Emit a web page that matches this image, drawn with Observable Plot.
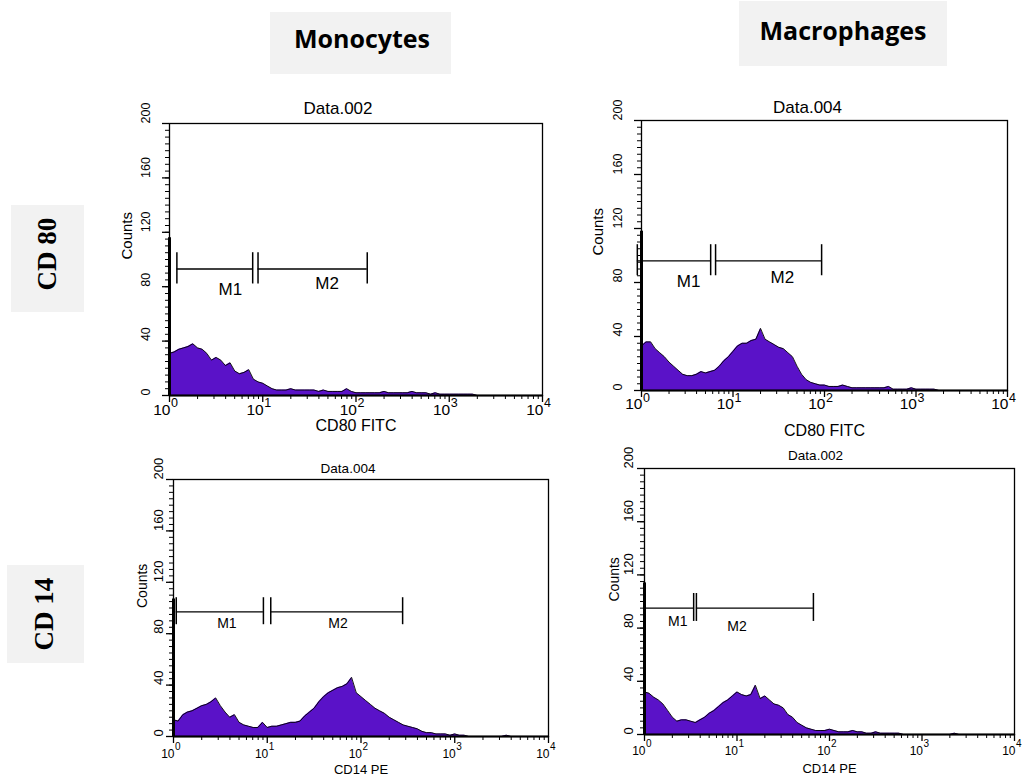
<!DOCTYPE html>
<html><head><meta charset="utf-8">
<script src="https://cdn.jsdelivr.net/npm/d3@7"></script>
<script src="https://cdn.jsdelivr.net/npm/@observablehq/plot@0.6"></script>
<style>
body{margin:0;background:#fff;}
#root{position:relative;width:1023px;height:778px;overflow:hidden;background:#fff;}
.hdr{position:absolute;background:#f2f2f2;}
.hdr span{position:absolute;white-space:nowrap;color:#000;}
.col span{font-family:"Open Sans",sans-serif;font-weight:700;font-size:25px;transform:translate(-50%,-50%);}
.row span{font-family:"Liberation Serif",serif;font-weight:700;font-size:27px;transform:translate(-50%,-50%) rotate(-90deg);}
.panel{position:absolute;}
.panel svg{overflow:visible;}
</style></head><body><div id="root"></div>
<script>
// ---------- data ----------
const fluorescence = [
  1, 1.12, 1.26, 1.41, 1.58, 1.78, 2, 2.24, 2.51, 2.82, 3.16, 3.55, 3.98, 4.47, 5.01, 5.62, 6.31, 7.08, 7.94, 8.91,
  10, 11.2, 12.6, 14.1, 15.8, 17.8, 20, 22.4, 25.1, 28.2, 31.6, 35.5, 39.8, 44.7, 50.1, 56.2, 63.1, 70.8, 79.4, 89.1,
  100, 112, 126, 141, 158, 178, 200, 224, 251, 282, 316, 355, 398, 447, 501, 562, 631, 708, 794, 891,
  1000, 1120, 1260, 1410, 1580, 1780, 2000, 2240, 2510, 2820, 3160, 3550, 3980, 4470, 5010, 5620, 6310, 7080, 7940, 8910, 10000
];
const countsMonoCD80 = [
  31,32,34,35,36,38,35,34,31,26,28,26,22,24,18,16,17,19,12,10,
  9,7,5,4,4,4,5,4,4,4,4,4,3,4,3,3,3,3,5,3,
  2,2,2,2,2,2,3,2,2,2,2,2,3,2,2,2,1,2,1,1,
  1,1,1,1,1,1,0,0,0,0,0,0,0,0,0,0,0,0,0,0,0
];
const countsMacroCD80 = [
  33,36,36,31,28,25,21,18,15,12,11,11,12,14,13,14,15,18,22,25,
  29,33,35,35,37,38,46,38,36,34,32,31,28,25,18,12,8,6,5,4,
  4,3,3,3,4,3,2,2,2,2,2,2,2,2,3,1,1,1,1,2,
  1,1,1,1,1,0,0,0,0,0,0,0,0,0,0,0,0,0,0,0,0
];
const countsMonoCD14 = [
  13,12,17,19,20,22,24,25,27,30,24,19,15,17,11,9,8,7,7,11,
  7,8,8,9,10,11,11,12,16,19,22,27,31,34,36,38,39,41,46,34,
  31,28,25,22,20,18,15,13,11,9,8,7,6,4,3,3,2,2,2,1,
  2,1,1,0,0,0,0,0,0,0,0,1,0,0,0,0,0,0,0,0,0
];
const countsMacroCD14 = [
  32,31,28,26,23,18,13,10,11,11,10,9,11,13,16,18,21,24,26,29,
  32,30,29,30,37,27,29,26,23,22,20,15,13,9,7,5,4,3,3,3,
  4,3,2,2,2,3,2,2,1,1,2,1,1,1,1,1,0,0,0,0,
  0,0,0,0,0,0,0,1,0,0,0,0,0,0,0,0,0,0,0,0,0
];
// counts in the first channel (spike at 10^0)
const firstChannel = {monoCD80: 116, macroCD80: 118, monoCD14: 107, macroCD14: 114};

const gatesMonoCD80  = [{name:"M1", x1:1.2,  x2:7.8, y:93, lx:4.5,  ly:78}, {name:"M2", x1:8.9,  x2:132, y:93, lx:49,   ly:82}];
const gatesMacroCD80 = [{name:"M1", x1:0.9,  x2:5.7, y:96, lx:3.27, ly:81}, {name:"M2", x1:6.45, x2:93,  y:96, lx:34.6, ly:84}];
const gatesMonoCD14  = [{name:"M1", x1:1.07, x2:9.1, y:97, lx:3.71, ly:88}, {name:"M2", x1:10.9, x2:278, y:97, lx:56.9, ly:88}];
const gatesMacroCD14 = [{name:"M1", x1:1.0,  x2:3.4, y:95, lx:2.29, ly:85}, {name:"M2", x1:3.64, x2:67,  y:95, lx:10.0, ly:81}];

const decades = [1, 10, 100, 1000, 10000];
const exponents = ["0", "1", "2", "3", "4"];
const yTickLabels = [0, 40, 80, 120, 160, 200];
const columnHeaders = ["Monocytes", "Macrophages"];
const rowHeaders = ["CD 80", "CD 14"];

// ---------- layout ----------
const root = document.getElementById("root");
function box(cls, l, t, w, h, text, cx, cy) {
  const d = document.createElement("div");
  d.className = "hdr " + cls;
  Object.assign(d.style, {left: l + "px", top: t + "px", width: w + "px", height: h + "px"});
  const s = document.createElement("span");
  s.textContent = text;
  s.style.left = cx + "px"; s.style.top = cy + "px";
  d.appendChild(s);
  root.appendChild(d);
}
box("col", 270, 12, 181, 62, columnHeaders[0], 92, 25.5);
box("col", 739, 1, 208, 65, columnHeaders[1], 104, 28.5);
box("row", 11, 205, 73, 107, rowHeaders[0], 35.5, 48.5);
box("row", 7, 565, 77, 98, rowHeaders[1], 37, 49);

const topStyle = {titleSize:17, titleDy:-15, titleDx:-18, tenSize:15.5, supSize:12.5, tenDy:15, supDy:7, ytickSize:12.5, ytickDx:-24,
  countsSize:15, countsDx:-42, xlabelSize:16, xlabelDy:30, gateSize:17, tickDown:11, tickUp:12};
const botStyle = {titleSize:13.5, titleDy:-11, titleDx:-13, tenSize:12, supSize:10, tenDy:18, supDy:10, ytickSize:13, ytickDx:-15,
  countsSize:14, countsDx:-31, xlabelSize:13, xlabelDy:33, gateSize:14, tickDown:10, tickUp:11};

const panels = [
  {counts: countsMonoCD80, spike: firstChannel.monoCD80, gates: gatesMonoCD80, title: "Data.002", xlabel: "CD80 FITC",
   left: 90, top: 90, width: 465, height: 350, m: [33, 13, 45, 79], style: topStyle},
  {counts: countsMacroCD80, spike: firstChannel.macroCD80, gates: gatesMacroCD80, title: "Data.004", xlabel: "CD80 FITC",
   left: 570, top: 90, width: 453, height: 350, m: [30, 16, 50, 71], style: {...topStyle, titleDy:-13, titleDx:-17, tenDy:14, xlabelDy:40, countsDx:-43}},
  {counts: countsMonoCD14, spike: firstChannel.monoCD14, gates: gatesMonoCD14, title: "Data.004", xlabel: "CD14 PE",
   left: 100, top: 445, width: 460, height: 333, m: [34, 12, 42, 73], style: botStyle},
  {counts: countsMacroCD14, spike: firstChannel.macroCD14, gates: gatesMacroCD14, title: "Data.002", xlabel: "CD14 PE",
   left: 587, top: 440, width: 436, height: 338, m: [28, 9, 44, 57], style: {...botStyle, titleDy:-13, titleDx:-14, tenDy:17, supDy:9, ytickDx:-16, countsDx:-30, xlabelDy:34}}
];

const purple = "#5a12c8";
const xMinor = [];
for (const d of decades.slice(0, 4)) for (let k = 2; k < 10; k++) xMinor.push(k * d);
const yMinor = d3.range(0, 201, 5);

for (const p of panels) {
  const s = p.style;
  const data = fluorescence.map((x, i) => ({x, y: p.counts[i]}));
  const T = {lineAnchor: "middle"};
  const chart = Plot.plot({
    width: p.width, height: p.height,
    marginTop: p.m[0], marginRight: p.m[1], marginBottom: p.m[2], marginLeft: p.m[3],
    x: {type: "log", domain: [1, 10000]},
    y: {domain: [0, 200]},
    style: {fontFamily: "'Liberation Sans', Arial, sans-serif", background: "transparent", color: "black", overflow: "visible"},
    marks: [
      Plot.areaY(data, {x: "x", y: "y", curve: "linear", fill: purple}),
      Plot.lineY(data, {x: "x", y: "y", curve: "linear", stroke: "black", strokeWidth: 0.9}),
      Plot.frame({stroke: "black", strokeWidth: 1.3}),
      Plot.ruleY([0], {stroke: "black", strokeWidth: 2}),
      Plot.ruleX([p.spike], {x: () => 1, y1: 0, y2: d => d, stroke: "black", strokeWidth: 3}),
      Plot.axisY({ticks: yMinor, tickSize: 4, fill: "none"}),
      Plot.axisY({ticks: yTickLabels, tickSize: 7, fill: "none", strokeWidth: 1.3}),
      Plot.axisX({ticks: xMinor, tickSize: 4, fill: "none"}),
      Plot.axisX({ticks: decades, tickSize: 7, fill: "none", strokeWidth: 1.3}),
      Plot.text(yTickLabels, {...T, y: d => d, text: d => String(d), frameAnchor: "left", dx: s.ytickDx, rotate: -90, fontSize: s.ytickSize}),
      Plot.text(decades, {...T, x: d => d, text: () => "10", frameAnchor: "bottom", dy: s.tenDy, dx: 1, textAnchor: "end", fontSize: s.tenSize}),
      Plot.text(decades, {...T, x: d => d, text: (d, i) => exponents[i], frameAnchor: "bottom", dy: s.supDy, dx: 1.5, textAnchor: "start", fontSize: s.supSize}),
      Plot.text([p.xlabel], {...T, text: d => d, frameAnchor: "bottom", dy: s.xlabelDy, fontSize: s.xlabelSize}),
      Plot.text(["Counts"], {...T, text: d => d, frameAnchor: "left", dx: s.countsDx, rotate: -90, fontSize: s.countsSize}),
      Plot.text([p.title], {...T, text: d => d, frameAnchor: "top", dy: s.titleDy, dx: s.titleDx, fontSize: s.titleSize}),
      Plot.ruleY(p.gates, {y: "y", x1: "x1", x2: "x2", stroke: "black", strokeWidth: 1.3}),
      Plot.ruleX(p.gates, {x: "x1", y1: d => d.y - s.tickDown, y2: d => d.y + s.tickUp, stroke: "black", strokeWidth: 1.5}),
      Plot.ruleX(p.gates, {x: "x2", y1: d => d.y - s.tickDown, y2: d => d.y + s.tickUp, stroke: "black", strokeWidth: 1.5}),
      Plot.text(p.gates, {...T, x: "lx", y: "ly", text: "name", fontSize: s.gateSize})
    ]
  });
  const wrap = document.createElement("div");
  wrap.className = "panel";
  wrap.style.left = p.left + "px";
  wrap.style.top = p.top + "px";
  wrap.appendChild(chart);
  root.appendChild(wrap);
}
</script>
</body></html>
